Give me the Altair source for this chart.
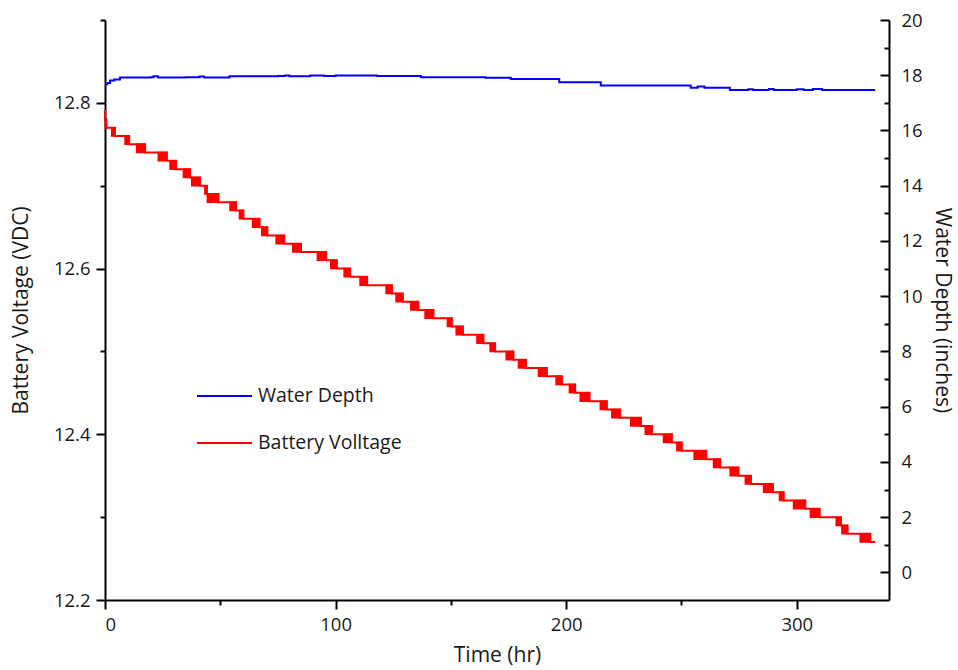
import altair as alt
import pandas as pd

# ---------------- Battery voltage (left axis), stepped in 0.01 V ----------------
volt_first_hr = 0.0
volt_first = 12.79
volt_last_hr = 334.0
drop_start = [0.0, 0.1, 2.9, 8.7, 13.7, 23.1, 28.2, 34.0, 37.6, 43.3, 44.4, 54.2, 58.3,
              64.0, 68.0, 74.2, 81.4, 92.1, 97.9, 103.7, 110.6, 121.9, 126.2, 132.6,
              138.8, 148.5, 152.3, 161.3, 167.0, 174.0, 179.3, 188.0, 195.6, 201.4,
              206.1, 214.8, 219.8, 228.0, 234.3, 242.2, 248.0, 255.5, 263.9, 271.1,
              277.7, 285.6, 292.5, 298.6, 305.9, 317.1, 319.6, 327.5]
drop_end = [0.1, 0.6, 4.3, 10.5, 17.4, 26.8, 30.8, 36.9, 41.2, 44.2, 49.2, 56.8, 60.0,
            67.0, 70.4, 77.7, 85.0, 95.9, 100.5, 106.3, 113.7, 124.4, 129.1, 135.9,
            142.4, 150.4, 155.2, 164.1, 169.2, 177.1, 182.6, 191.6, 198.1, 203.9,
            210.1, 217.6, 223.4, 232.4, 237.2, 245.8, 250.1, 260.7, 266.8, 274.7,
            280.1, 289.6, 294.3, 303.7, 309.9, 319.2, 322.0, 331.9]
volt_after = [12.78, 12.77, 12.76, 12.75, 12.74, 12.73, 12.72, 12.71, 12.70, 12.69,
              12.68, 12.67, 12.66, 12.65, 12.64, 12.63, 12.62, 12.61, 12.60, 12.59,
              12.58, 12.57, 12.56, 12.55, 12.54, 12.53, 12.52, 12.51, 12.50, 12.49,
              12.48, 12.47, 12.46, 12.45, 12.44, 12.43, 12.42, 12.41, 12.40, 12.39,
              12.38, 12.37, 12.36, 12.35, 12.34, 12.33, 12.32, 12.31, 12.30, 12.29,
              12.28, 12.27]

# ---------------- Water depth (right axis) ----------------
depth_hr = [0, 1, 2.2, 4, 6.5, 20, 21, 23, 35, 41, 43, 54, 75, 78, 80, 89, 95, 100,
            115, 118, 137, 150, 165, 176, 197, 215, 254, 257, 260, 271, 279, 281, 288,
            290, 293, 300, 303, 307, 311, 334]
depth_in = [17.67, 17.72, 17.81, 17.85, 17.92, 17.93, 17.96, 17.92, 17.93, 17.95, 17.92,
            17.96, 17.97, 17.99, 17.96, 17.99, 17.97, 17.99, 17.99, 17.97, 17.93, 17.93,
            17.91, 17.86, 17.75, 17.63, 17.55, 17.59, 17.55, 17.47, 17.49, 17.47, 17.50,
            17.47, 17.47, 17.49, 17.47, 17.50, 17.47, 17.47]

# ---------------- Ticks / legend ----------------
x_major = [0, 100, 200, 300]
x_minor = [50, 150, 250]
volt_major = [12.2, 12.4, 12.6, 12.8]
volt_minor = [12.3, 12.5, 12.7, 12.9]
depth_major_vals = [0, 2, 4, 6, 8, 10, 12, 14, 16, 18, 20]
depth_minor_vals = [1, 3, 5, 7, 9, 11, 13, 15, 17, 19]
legend_labels = ["Water Depth", "Battery Volltage"]
legend_colors = ["#0000ff", "#ff0000"]

FONT = "Open Sans"
RED = "#ff0000"
BLUE = "#0000ff"
TXT = "#1a1a1a"

volt_before = [volt_first] + volt_after[:-1]
rect_df = pd.DataFrame({"hr": drop_start, "hr2": drop_end,
                        "v_hi": volt_before, "v_lo": volt_after})
line_df = pd.DataFrame({"hr": [volt_first_hr] + drop_end + [volt_last_hr],
                        "v": [volt_first] + volt_after + [volt_after[-1]]})
water_df = pd.DataFrame({"hr": depth_hr, "d": depth_in})
leg_df = pd.DataFrame({"label": legend_labels, "row": [0, 1], "color": legend_colors})

x_scale = alt.Scale(domain=[0, 340], nice=False, zero=False)
v_scale = alt.Scale(domain=[12.2, 12.9], nice=False, zero=False)
d_scale = alt.Scale(domain=[-1, 20], nice=False, zero=False)

ax_x_major = alt.Axis(orient="bottom", values=x_major, format="d", tickSize=9,
                      labelPadding=6, title="Time (hr)", titlePadding=11, grid=False)
ax_x_minor = alt.Axis(orient="bottom", values=x_minor, tickSize=5, labels=False,
                      domain=False, title=None, grid=False)
ax_v_major = alt.Axis(orient="left", values=volt_major, format=".1f", tickSize=9,
                      labelPadding=6, title="Battery Voltage (VDC)", titlePadding=22,
                      grid=False)
ax_v_minor = alt.Axis(orient="left", values=volt_minor, tickSize=5, labels=False,
                      domain=False, title=None, grid=False)
ax_d_frame = alt.Axis(orient="right", ticks=False, labels=False, domain=True,
                      title=None, grid=False)
ax_d_major = alt.Axis(orient="right", offset=-9, values=depth_major_vals, tickSize=9,
                      labelPadding=12, domain=False, title="Water Depth (inches)",
                      titlePadding=9, grid=False)
ax_d_minor = alt.Axis(orient="right", offset=-5, values=depth_minor_vals, tickSize=5,
                      labels=False, domain=False, title=None, grid=False)

# Battery layers
volt_rects = alt.Chart(rect_df).mark_rect(color=RED, stroke=RED, strokeWidth=1.5).encode(
    x=alt.X("hr:Q", scale=x_scale, axis=ax_x_minor),
    x2="hr2:Q",
    y=alt.Y("v_hi:Q", scale=v_scale, axis=ax_v_minor),
    y2="v_lo:Q",
)
volt_line = alt.Chart(line_df).mark_line(interpolate="step-after", color=RED,
                                         strokeWidth=2).encode(
    x=alt.X("hr:Q", scale=x_scale, axis=ax_x_major),
    y=alt.Y("v:Q", scale=v_scale, axis=ax_v_major),
)
battery = alt.layer(volt_rects, volt_line).resolve_axis(x="independent", y="independent")

# Water layers
water_line = alt.Chart(water_df).mark_line(interpolate="step-after", color=BLUE,
                                           strokeWidth=2).encode(
    x=alt.X("hr:Q", scale=x_scale, axis=None),
    y=alt.Y("d:Q", scale=d_scale, axis=ax_d_major),
)
water_minor = alt.Chart(water_df).mark_line(interpolate="step-after", color=BLUE,
                                            strokeOpacity=0).encode(
    x=alt.X("hr:Q", scale=x_scale, axis=None),
    y=alt.Y("d:Q", scale=d_scale, axis=ax_d_minor),
)
water_frame = alt.Chart(water_df).mark_line(interpolate="step-after", color=BLUE,
                                            strokeOpacity=0).encode(
    x=alt.X("hr:Q", scale=x_scale, axis=None),
    y=alt.Y("d:Q", scale=d_scale, axis=ax_d_frame),
)
water = alt.layer(water_frame, water_minor, water_line).resolve_axis(y="independent")

# Legend (inside plot)
leg_y = alt.Y("row:Q", scale=alt.Scale(domain=[0, 1], range=[376, 423]), axis=None)
leg_rule = alt.Chart(leg_df).mark_rule(strokeWidth=2).encode(
    x=alt.value(92), x2=alt.value(147), y=leg_y,
    color=alt.Color("color:N", scale=None),
)
leg_text = alt.Chart(leg_df).mark_text(align="left", baseline="middle", font=FONT,
                                       fontSize=19.5, color=TXT).encode(
    x=alt.value(153), y=leg_y, text="label:N",
)
legend = alt.layer(leg_rule, leg_text)

chart = alt.layer(battery, water, legend).resolve_scale(
    y="independent"
).resolve_axis(
    x="independent", y="independent"
).properties(
    width=784, height=580,
    autosize=alt.AutoSizeParams(type="none"),
    padding={"left": 105, "top": 20, "right": 69, "bottom": 70},
    background="white",
).configure_axis(
    domainColor="black", domainWidth=2, tickColor="black", tickWidth=2,
    labelFont=FONT, labelFontSize=18.5, labelColor=TXT,
    titleFont=FONT, titleFontSize=21, titleFontWeight="normal", titleColor=TXT,
).configure_view(stroke=None)

chart.save("out.html", embed_options={"renderer": "svg", "actions": False})
